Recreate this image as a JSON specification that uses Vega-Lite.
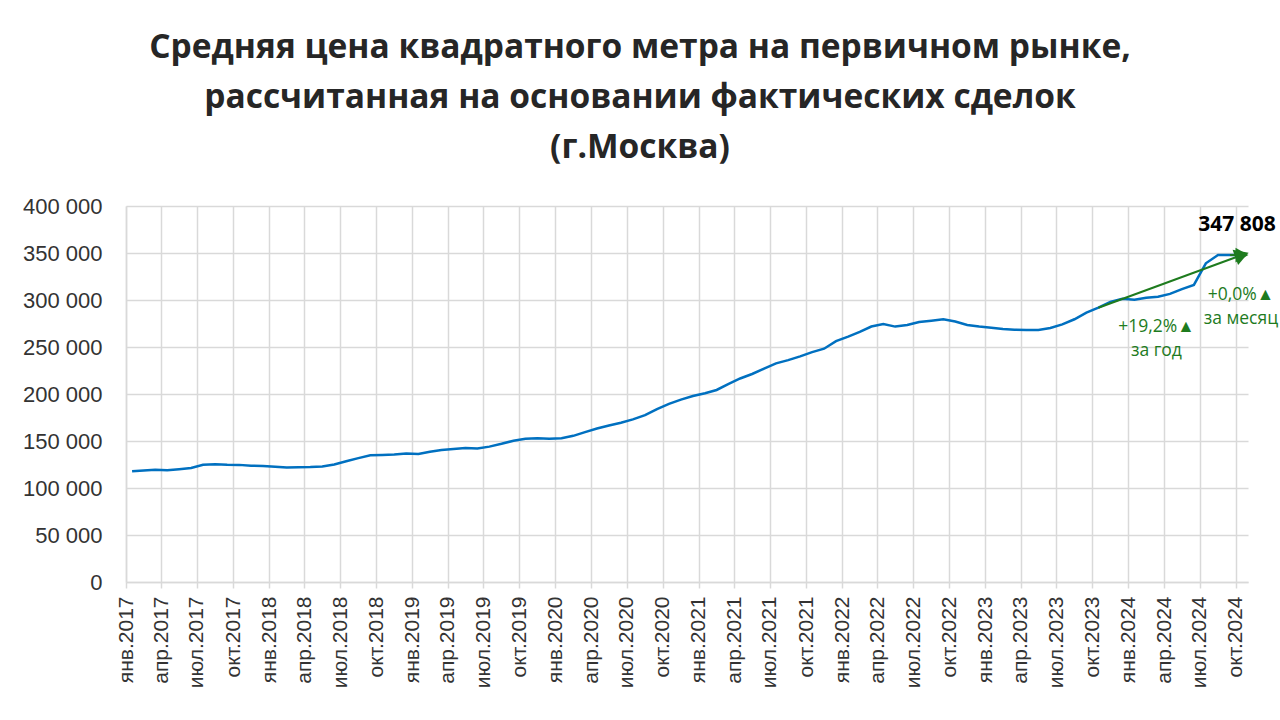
{
  "$schema": "https://vega.github.io/schema/vega-lite/v6.json",
  "width": 1122,
  "height": 376,
  "autosize": {"type": "none"},
  "padding": {"left": 126, "top": 206, "right": 32, "bottom": 138},
  "background": "white",
  "title": {
    "text": ["Средняя цена квадратного метра на первичном рынке,", "рассчитанная на основании фактических сделок", "(г.Москва)"],
    "font": "Open Sans",
    "fontSize": 33.5,
    "fontWeight": "bold",
    "color": "#262626",
    "lineHeight": 50,
    "anchor": "middle",
    "frame": "group",
    "dx": -47,
    "offset": 30
  },
  "config": {"view": {"stroke": null}},
  "encoding": {
    "x": {
      "field": "date", "type": "temporal", "timeUnit": "utcyearmonth", "bandPosition": 0.5,
      "scale": {"type": "utc", "domain": [{"year": 2017, "month": 1, "date": 1, "utc": true}, {"year": 2024, "month": 11, "date": 1, "utc": true}]},
      "axis": {
        "title": null,
        "tickCount": {"interval": "month", "step": 3},
        "labelExpr": "['янв','фев','мар','апр','май','июн','июл','авг','сен','окт','ноя','дек'][utcmonth(datum.value)] + '.' + utcyear(datum.value)",
        "labelAngle": -90, "labelAlign": "right", "labelBaseline": "middle",
        "labelFont": "Liberation Sans", "labelFontSize": 21, "labelColor": "#333333",
        "labelPadding": 8, "labelOverlap": false, "labelFlush": false, "labelBound": false,
        "gridColor": "#d9d9d9", "gridWidth": 1.5,
        "domainColor": "#d9d9d9", "domainWidth": 1.5,
        "tickColor": "#d9d9d9", "tickSize": 6, "tickWidth": 1.5
      }
    },
    "y": {
      "field": "value", "type": "quantitative",
      "scale": {"domain": [0, 400000], "nice": false},
      "axis": {
        "title": null,
        "values": [0, 50000, 100000, 150000, 200000, 250000, 300000, 350000, 400000],
        "labelExpr": "replace(format(datum.value, ','), ',', ' ')",
        "labelFont": "Liberation Sans", "labelFontSize": 22, "labelColor": "#333333",
        "ticks": false, "tickSize": 0, "labelPadding": 24,
        "gridColor": "#d9d9d9", "gridWidth": 1.5,
        "domainColor": "#d9d9d9", "domainWidth": 1.5
      }
    }
  },
  "layer": [
    {
      "data": {"values": [
        {"date": "2017-01", "value": 117800}, {"date": "2017-02", "value": 118500}, {"date": "2017-03", "value": 119300}, {"date": "2017-04", "value": 119000}, {"date": "2017-05", "value": 120000}, {"date": "2017-06", "value": 121200}, {"date": "2017-07", "value": 124800}, {"date": "2017-08", "value": 125300}, {"date": "2017-09", "value": 124800}, {"date": "2017-10", "value": 124600}, {"date": "2017-11", "value": 123600}, {"date": "2017-12", "value": 123500},
        {"date": "2018-01", "value": 122500}, {"date": "2018-02", "value": 121700}, {"date": "2018-03", "value": 122200}, {"date": "2018-04", "value": 122300}, {"date": "2018-05", "value": 122800}, {"date": "2018-06", "value": 125000}, {"date": "2018-07", "value": 128500}, {"date": "2018-08", "value": 131800}, {"date": "2018-09", "value": 134800}, {"date": "2018-10", "value": 135200}, {"date": "2018-11", "value": 135600}, {"date": "2018-12", "value": 136800},
        {"date": "2019-01", "value": 136200}, {"date": "2019-02", "value": 138500}, {"date": "2019-03", "value": 140500}, {"date": "2019-04", "value": 141500}, {"date": "2019-05", "value": 142500}, {"date": "2019-06", "value": 142000}, {"date": "2019-07", "value": 144000}, {"date": "2019-08", "value": 147000}, {"date": "2019-09", "value": 150300}, {"date": "2019-10", "value": 152300}, {"date": "2019-11", "value": 153000}, {"date": "2019-12", "value": 152300},
        {"date": "2020-01", "value": 153000}, {"date": "2020-02", "value": 155500}, {"date": "2020-03", "value": 159500}, {"date": "2020-04", "value": 163300}, {"date": "2020-05", "value": 166500}, {"date": "2020-06", "value": 169500}, {"date": "2020-07", "value": 173000}, {"date": "2020-08", "value": 177500}, {"date": "2020-09", "value": 184000}, {"date": "2020-10", "value": 189500}, {"date": "2020-11", "value": 194000}, {"date": "2020-12", "value": 197800},
        {"date": "2021-01", "value": 200800}, {"date": "2021-02", "value": 204300}, {"date": "2021-03", "value": 210500}, {"date": "2021-04", "value": 216500}, {"date": "2021-05", "value": 221300}, {"date": "2021-06", "value": 227000}, {"date": "2021-07", "value": 232600}, {"date": "2021-08", "value": 236000}, {"date": "2021-09", "value": 240000}, {"date": "2021-10", "value": 244500}, {"date": "2021-11", "value": 248200}, {"date": "2021-12", "value": 256200},
        {"date": "2022-01", "value": 261000}, {"date": "2022-02", "value": 266000}, {"date": "2022-03", "value": 271800}, {"date": "2022-04", "value": 274500}, {"date": "2022-05", "value": 271700}, {"date": "2022-06", "value": 273400}, {"date": "2022-07", "value": 276600}, {"date": "2022-08", "value": 278000}, {"date": "2022-09", "value": 279500}, {"date": "2022-10", "value": 277200}, {"date": "2022-11", "value": 273500}, {"date": "2022-12", "value": 271800},
        {"date": "2023-01", "value": 270500}, {"date": "2023-02", "value": 269200}, {"date": "2023-03", "value": 268400}, {"date": "2023-04", "value": 268200}, {"date": "2023-05", "value": 268100}, {"date": "2023-06", "value": 270200}, {"date": "2023-07", "value": 274000}, {"date": "2023-08", "value": 279500}, {"date": "2023-09", "value": 286500}, {"date": "2023-10", "value": 291785}, {"date": "2023-11", "value": 298000}, {"date": "2023-12", "value": 301200},
        {"date": "2024-01", "value": 300200}, {"date": "2024-02", "value": 302300}, {"date": "2024-03", "value": 303500}, {"date": "2024-04", "value": 306500}, {"date": "2024-05", "value": 311600}, {"date": "2024-06", "value": 316000}, {"date": "2024-07", "value": 339000}, {"date": "2024-08", "value": 347800}, {"date": "2024-09", "value": 347808}, {"date": "2024-10", "value": 347808}
      ]},
      "mark": {"type": "line", "color": "#0070C0", "strokeWidth": 2.5}
    },
    {
      "data": {"values": [{"date": "2023-10", "value": 291785}, {"date": "2024-10", "value": 347808}]},
      "mark": {"type": "line", "color": "#1e7b1e", "strokeWidth": 2}
    },
    {
      "data": {"values": [{"date": "2024-09", "value": 347808}, {"date": "2024-10", "value": 347808}]},
      "mark": {"type": "line", "color": "#1e7b1e", "strokeWidth": 2}
    },
    {
      "data": {"values": [{"date": "2024-10", "value": 347808}]},
      "layer": [
        {"mark": {"type": "point", "shape": "triangle-right", "filled": true, "opacity": 1, "color": "#1e7b1e", "size": 260, "angle": 340}},
        {"mark": {"type": "point", "shape": "triangle-right", "filled": true, "opacity": 1, "color": "#1e7b1e", "size": 220, "angle": 0}}
      ]
    },
    {
      "data": {"values": [{"date": "2024-10", "value": 347808, "label": "347 808"}]},
      "mark": {"type": "text", "font": "Open Sans", "fontSize": 21, "fontWeight": "bold", "color": "#000000", "dx": -5, "dy": -30, "align": "center", "baseline": "middle"},
      "encoding": {"text": {"field": "label"}}
    },
    {
      "data": {"values": [{"date": "2024-10", "value": 347808, "label": "+0,0%▲\nза месяц"}]},
      "mark": {"type": "text", "font": "Open Sans", "fontSize": 17.5, "color": "#1e7b1e", "lineBreak": "\n", "lineHeight": 24, "dx": -1, "dy": 40, "align": "center", "baseline": "middle"},
      "encoding": {"text": {"field": "label"}}
    },
    {
      "data": {"values": [{"date": "2023-10", "value": 291785, "label": "+19,2%▲\nза год"}]},
      "mark": {"type": "text", "font": "Open Sans", "fontSize": 17.5, "color": "#1e7b1e", "lineBreak": "\n", "lineHeight": 24, "dx": 58, "dy": 19, "align": "center", "baseline": "middle"},
      "encoding": {"text": {"field": "label"}}
    }
  ]
}
